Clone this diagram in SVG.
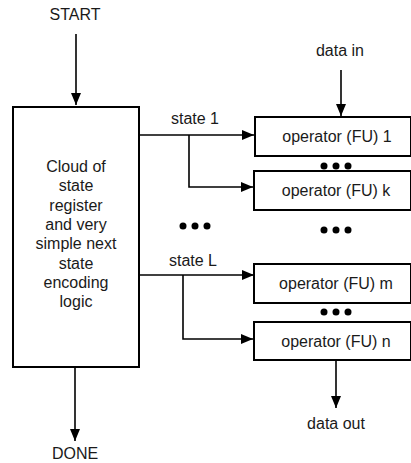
<svg xmlns="http://www.w3.org/2000/svg" width="411" height="463" viewBox="0 0 411 463">
<style>
text{font-family:"Liberation Sans",Arial,sans-serif;font-size:16px;fill:#1a1a1a;text-anchor:middle}
.box{fill:#fff;stroke:#000;stroke-width:2}
.ln{fill:none;stroke:#000;stroke-width:1.6}
.dot{fill:#000}
</style>
<defs>
<marker id="ah" viewBox="0 0 12 10" refX="12" refY="5" markerWidth="12" markerHeight="10" markerUnits="userSpaceOnUse" orient="auto">
<path d="M0,0 L12,5 L0,10 Z" fill="#000"/>
</marker>
</defs>
<g id="connectors">
<path class="ln" d="M76,34 V105" marker-end="url(#ah)"/>
<path class="ln" d="M341,70 V116" marker-end="url(#ah)"/>
<path class="ln" d="M139,135 H254" marker-end="url(#ah)"/>
<path class="ln" d="M189,135 V187 H253" marker-end="url(#ah)"/>
<path class="ln" d="M139,275 H254" marker-end="url(#ah)"/>
<path class="ln" d="M183,275 V339 H253" marker-end="url(#ah)"/>
<path class="ln" d="M75,367 V441" marker-end="url(#ah)"/>
<path class="ln" d="M336,360 V408" marker-end="url(#ah)"/>
</g>
<g id="start"><text x="75" y="20">START</text></g>
<g id="datain"><text x="340" y="56">data in</text></g>
<g id="cloud">
<rect class="box" x="13" y="107" width="126" height="260"/>
<text x="76" y="172">Cloud of</text>
<text x="76" y="191">state</text>
<text x="76" y="211">register</text>
<text x="76" y="230">and very</text>
<text x="76" y="249">simple next</text>
<text x="76" y="269">state</text>
<text x="76" y="288">encoding</text>
<text x="76" y="307">logic</text>
</g>
<g id="label-state1"><text x="195" y="124">state 1</text></g>
<g id="label-stateL"><text x="193" y="266">state L</text></g>
<g id="fu1"><rect class="box" x="255" y="117" width="156" height="39"/><text x="337" y="142">operator (FU) 1</text></g>
<g id="fuk"><rect class="box" x="254" y="171" width="157" height="39"/><text x="336" y="196">operator (FU) k</text></g>
<g id="fum"><rect class="box" x="254" y="264" width="157" height="39"/><text x="336" y="289">operator (FU) m</text></g>
<g id="fun"><rect class="box" x="254" y="322" width="157" height="38"/><text x="336" y="347">operator (FU) n</text></g>
<g id="dots">
<circle class="dot" cx="324" cy="166" r="3.5"/><circle class="dot" cx="336" cy="166" r="3.5"/><circle class="dot" cx="348" cy="166" r="3.5"/>
<circle class="dot" cx="183" cy="226" r="3.5"/><circle class="dot" cx="195" cy="226" r="3.5"/><circle class="dot" cx="207" cy="226" r="3.5"/>
<circle class="dot" cx="324" cy="230" r="3.5"/><circle class="dot" cx="336" cy="230" r="3.5"/><circle class="dot" cx="348" cy="230" r="3.5"/>
<circle class="dot" cx="324" cy="312" r="3.5"/><circle class="dot" cx="336" cy="312" r="3.5"/><circle class="dot" cx="348" cy="312" r="3.5"/>
</g>
<g id="done"><text x="75" y="459">DONE</text></g>
<g id="dataout"><text x="336" y="429">data out</text></g>
</svg>
